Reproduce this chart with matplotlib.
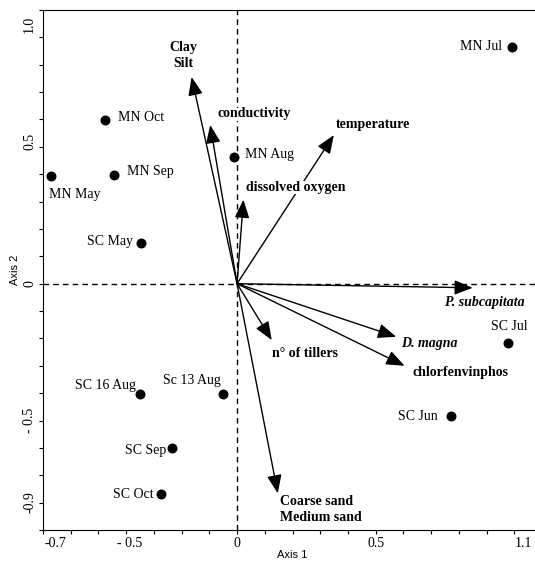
import numpy as np
import matplotlib
matplotlib.use("Agg")
import matplotlib.pyplot as plt
from matplotlib.transforms import ScaledTranslation

# sites (samples)
site_names = ["MN Jul", "MN Oct", "MN Sep", "MN May", "SC May", "MN Aug",
              "SC 16 Aug", "Sc 13 Aug", "SC Sep", "SC Oct", "SC Jul", "SC Jun"]
site_x = [0.99, -0.475, -0.445, -0.671, -0.347, -0.011,
          -0.350, -0.049, -0.235, -0.276, 0.977, 0.773]
site_y = [0.864, 0.598, 0.398, 0.395, 0.149, 0.464,
          -0.402, -0.402, -0.602, -0.768, -0.218, -0.485]

# environmental / response vectors
vec_names = ["Clay\nSilt", "conductivity", "dissolved oxygen", "temperature",
             "P. subcapitata", "D. magna", "chlorfenvinphos", "n\u00b0 of tillers",
             "Coarse sand\nMedium sand"]
vec_x = [-0.164, -0.097, 0.023, 0.349, 0.85, 0.574, 0.604, 0.125, 0.147]
vec_y = [0.755, 0.58, 0.307, 0.543, -0.015, -0.194, -0.30, -0.206, -0.766]

xtick_vals = [-0.7, -0.5, 0, 0.5, 1.1]
xtick_text = ["-0.7", "- 0.5", "0", "0.5", "1.1"]
ytick_vals = [-0.9, -0.5, 0, 0.5, 1.0]
ytick_text = ["-0.9", "- 0.5", "0", "0.5", "1.0"]

# label placement (offset in pixels, alignment)
site_lab = {
    "MN Jul": (-9, 1, "right"), "MN Oct": (13, 3, "left"), "MN Sep": (13, 3, "left"),
    "MN May": (-2, -19, "left"), "SC May": (-8, 1, "right"), "MN Aug": (11, 2, "left"),
    "SC 16 Aug": (-4, 8, "right"), "Sc 13 Aug": (-3, 13, "right"),
    "SC Sep": (-6, -2, "right"), "SC Oct": (-7, -1, "right"),
    "SC Jul": (20, 17, "right"), "SC Jun": (-14, 0, "right"),
}
vec_lab = {
    "Clay\nSilt": (-0.194, 0.835, "center", "normal"),
    "conductivity": (-0.07, 0.62, "left", "normal"),
    "dissolved oxygen": (0.032, 0.35, "left", "normal"),
    "temperature": (0.355, 0.58, "left", "normal"),
    "P. subcapitata": (1.037, -0.07, "right", "italic"),
    "D. magna": (0.59, -0.218, "left", "italic"),
    "chlorfenvinphos": (0.634, -0.324, "left", "normal"),
    "n\u00b0 of tillers": (0.125, -0.256, "left", "normal"),
    "Coarse sand\nMedium sand": (0.156, -0.826, "left", "normal"),
}
# the original software puts some tick labels off their ticks (pixels)
xlab_shift = [12, 31, 0, 0, -19]
ylab_shift = [28, 0, 0, 5, -14]

serif = ["Liberation Serif", "DejaVu Serif"]

fig = plt.figure(figsize=(5.35, 5.61), dpi=100)
ax = fig.add_axes([43 / 535, 1 - 530 / 561, 499 / 535, 520 / 561])
ax.set_xlim(-0.7, 1.1)
ax.set_ylim(-0.9, 0.99)

ax.axhline(0, color="black", lw=1, ls=(0, (4, 3)), zorder=1)
ax.axvline(0, color="black", lw=1, ls=(0, (4, 3)), zorder=1)

# arrows
for name, vx, vy in zip(vec_names, vec_x, vec_y):
    ax.annotate("", xy=(vx, vy), xytext=(0, 0),
                arrowprops=dict(arrowstyle="-|>,head_length=0.7,head_width=0.28",
                                color="black", lw=1, mutation_scale=16,
                                shrinkA=0, shrinkB=0), zorder=2)

for name in vec_names:
    lx, ly, ha, style = vec_lab[name]
    ax.text(lx, ly, name, ha=ha, va="center", fontsize=10, fontweight="bold",
            fontstyle=style, family=serif, linespacing=1.3, zorder=4,
            bbox=dict(facecolor="white", edgecolor="none", pad=0))

# sites
ax.scatter(site_x, site_y, s=38, color="black", zorder=5)
for name, sx, sy in zip(site_names, site_x, site_y):
    dx, dy, ha = site_lab[name]
    ax.annotate(name, (sx, sy), xytext=(dx, dy), textcoords="offset pixels",
                ha=ha, va="center", fontsize=10, family=serif, zorder=5)

ax.spines["right"].set_visible(False)
ax.set_xticks(xtick_vals)
ax.set_xticklabels(xtick_text, family=serif, fontsize=10)
ax.set_yticks(ytick_vals)
ax.set_yticklabels(ytick_text, family=serif, fontsize=10, rotation=90, va="center")
ax.set_xticks(np.arange(-0.7, 1.11, 0.1), minor=True)
ax.set_yticks(np.arange(-0.9, 1.01, 0.1), minor=True)
ax.tick_params(which="both", direction="out", length=3, width=0.8, pad=2)
ax.set_xlabel("Axis 1", family=["Liberation Sans"], fontsize=8, labelpad=0)
ax.set_ylabel("Axis 2", family=["Liberation Sans"], fontsize=8, labelpad=2)

for lab, s in zip(ax.get_xticklabels(), xlab_shift):
    lab.set_transform(lab.get_transform() + ScaledTranslation(s / 100, 0, fig.dpi_scale_trans))
for lab, s in zip(ax.get_yticklabels(), ylab_shift):
    lab.set_transform(lab.get_transform() + ScaledTranslation(0, s / 100, fig.dpi_scale_trans))

fig.savefig("out.png", dpi=100)
